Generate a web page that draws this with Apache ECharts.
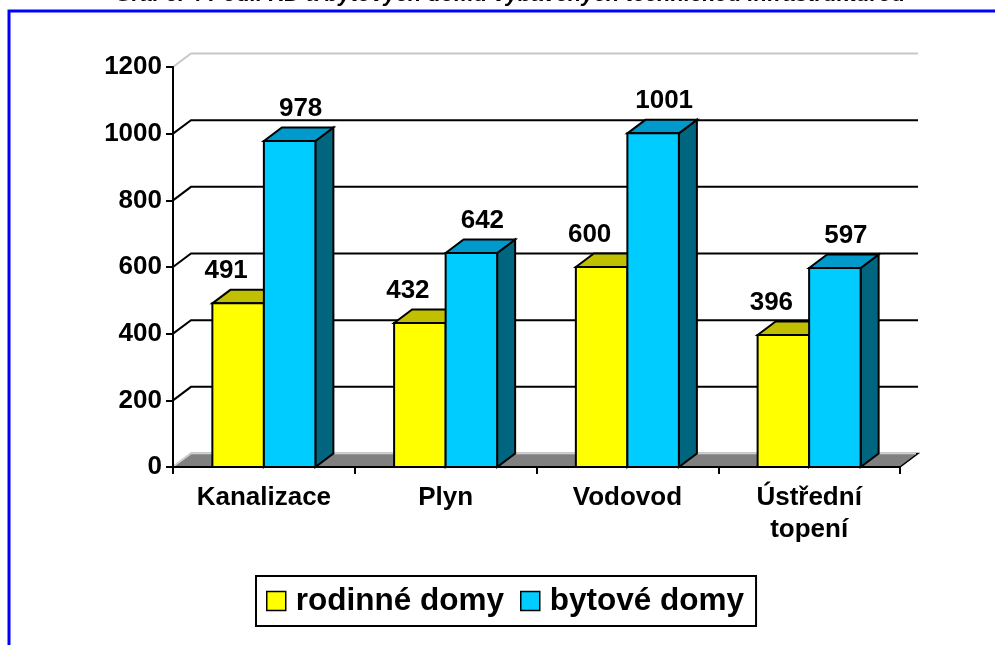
<!DOCTYPE html>
<html>
<head>
<meta charset="utf-8">
<script src="https://cdn.jsdelivr.net/npm/echarts@6/dist/echarts.min.js"></script>
<style>
html,body{margin:0;padding:0;background:#fff;}
#chart{width:995px;height:645px;}
</style>
</head>
<body>
<div id="chart"></div>
<script>
const categories = ['Kanalizace', 'Plyn', 'Vodovod', 'Ústřední\ntopení'];
const rodinneDomy = [491, 432, 600, 396];
const bytoveDomy = [978, 642, 1001, 597];
const yTicks = [0, 200, 400, 600, 800, 1000, 1200];
const seriesNames = ['rodinné domy', 'bytové domy'];
const titleText = 'Graf č. 4 Podíl RD a bytových domů vybavených technickou infrastrukturou';

const FONT = '"Liberation Sans", Arial, sans-serif';
const DX = 18, DY = -13.5;
const BAR_RATIO = 0.2834;

function barRenderer(front, topC, sideC, side, labelDx) {
  return function (params, api) {
    const i = api.value(0), v = api.value(1);
    const t = api.coord([i, v]);
    const b = api.coord([i, 0]);
    const bw = api.size([1, 0])[0] * BAR_RATIO;
    const x0 = side === 0 ? t[0] - bw : t[0];
    const x1 = x0 + bw;
    const yt = t[1], yb = b[1];
    const st = { stroke: '#000', lineWidth: 2, lineJoin: 'miter' };
    return {
      type: 'group',
      children: [
        { type: 'polygon', shape: { points: [[x1, yt], [x1 + DX, yt + DY], [x1 + DX, yb + DY], [x1, yb]] },
          style: Object.assign({ fill: sideC }, st) },
        { type: 'polygon', shape: { points: [[x0, yt], [x0 + DX, yt + DY], [x1 + DX, yt + DY], [x1, yt]] },
          style: Object.assign({ fill: topC }, st) },
        { type: 'rect', shape: { x: x0, y: yt, width: bw, height: yb - yt },
          style: Object.assign({ fill: front }, st) },
        { type: 'text', z2: 10,
          style: { text: String(v), x: (x0 + x1) / 2 + labelDx, y: yt + DY - 19,
                   align: 'center', verticalAlign: 'middle',
                   font: 'bold 26px ' + FONT, fill: '#000' } }
      ]
    };
  };
}

function gridRenderer(params, api) {
  const cs = params.coordSys;
  const v = api.value(1);
  const y = api.coord([0, v])[1];
  const x0 = cs.x, x1 = cs.x + cs.width;
  const maxV = yTicks[yTicks.length - 1];
  if (v === 0) {
    return {
      type: 'group',
      children: [
        { type: 'polygon', shape: { points: [[x0, y], [x1, y], [x1 + DX, y + DY], [x0 + DX, y + DY]] },
          style: { fill: '#808080', stroke: '#000', lineWidth: 1.5 } },
        { type: 'polyline', shape: { points: [[x0 + 1, y - 1], [x0 + DX, y + DY], [x1 + DX - 2, y + DY]] },
          style: { fill: null, stroke: '#d0d0d0', lineWidth: 2 } }
      ]
    };
  }
  const col = v === maxV ? '#c8c8c8' : '#000';
  return {
    type: 'polyline',
    shape: { points: [[x0, y], [x0 + DX, y + DY], [x1 + DX, y + DY]] },
    style: { fill: null, stroke: col, lineWidth: 2 }
  };
}

const chart = echarts.init(document.getElementById('chart'), null, { renderer: 'canvas' });
chart.setOption({
  animation: false,
  backgroundColor: '#fff',
  grid: { left: 173, right: 95, top: 67, bottom: 178 },
  graphic: [
    { type: 'rect', z: 100, shape: { x: 9, y: 11, width: 1200, height: 900 },
      style: { fill: null, stroke: '#0000FF', lineWidth: 3 } },
    { type: 'text', z: 100, style: { text: titleText, x: 510, y: -5, align: 'center', verticalAlign: 'middle',
      font: 'italic bold 22px ' + FONT, fill: '#000' } }
  ],
  legend: {
    data: seriesNames,
    left: 256, top: 576,
    orient: 'horizontal',
    icon: 'rect',
    itemWidth: 19, itemHeight: 19,
    itemGap: 16,
    padding: [9, 12, 9, 10],
    borderColor: '#000', borderWidth: 2,
    itemStyle: { borderColor: '#000', borderWidth: 1.5 },
    textStyle: { fontFamily: FONT, fontWeight: 'bold', fontSize: 31.5, color: '#000', padding: [0, 0, 0, 5] }
  },
  xAxis: {
    type: 'category',
    data: categories,
    z: 10,
    axisLine: { lineStyle: { color: '#000', width: 2 } },
    axisTick: { show: true, length: 7, lineStyle: { color: '#000', width: 2 } },
    axisLabel: { interval: 0, margin: 15, color: '#000', fontFamily: FONT, fontWeight: 'bold', fontSize: 26, lineHeight: 32 },
    splitLine: { show: false }
  },
  yAxis: {
    type: 'value',
    min: 0, max: 1200, interval: 200,
    z: 10,
    axisLine: { show: true, lineStyle: { color: '#000', width: 2 } },
    axisTick: { show: true, length: 7, lineStyle: { color: '#000', width: 2 } },
    axisLabel: { margin: 11, color: '#000', fontFamily: FONT, fontWeight: 'bold', fontSize: 26,
      formatter: v => String(v) },
    splitLine: { show: false }
  },
  series: [
    { type: 'custom', name: 'grid', clip: false, silent: true, z: 1,
      renderItem: gridRenderer, data: yTicks.map(v => [0, v]) },
    { type: 'custom', name: seriesNames[0], clip: false, z: 3,
      itemStyle: { color: '#FFFF00' },
      renderItem: barRenderer('#FFFF00', '#C0C000', '#A0A000', 0, -12),
      data: rodinneDomy.map((v, i) => [i, v]) },
    { type: 'custom', name: seriesNames[1], clip: false, z: 4,
      itemStyle: { color: '#00CCFF' },
      renderItem: barRenderer('#00CCFF', '#0099CC', '#006680', 1, 11),
      data: bytoveDomy.map((v, i) => [i, v]) }
  ]
});
</script>
</body>
</html>
